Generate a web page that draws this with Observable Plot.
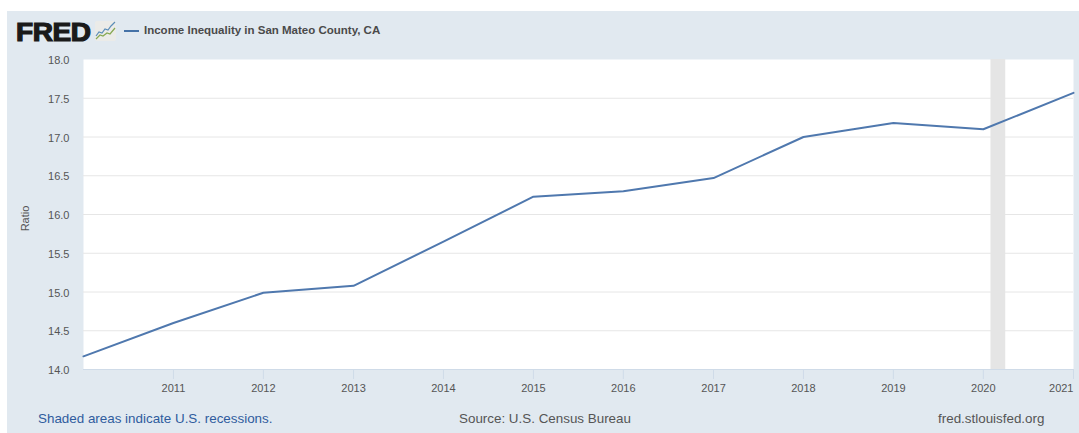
<!DOCTYPE html>
<html>
<head>
<meta charset="utf-8">
<script src="https://cdn.jsdelivr.net/npm/d3@7"></script>
<script src="https://cdn.jsdelivr.net/npm/@observablehq/plot@0.6"></script>
<style>
  html, body { margin: 0; padding: 0; background: #fff; }
  body { width: 1079px; height: 433px; overflow: hidden; font-family: "Liberation Sans", Arial, sans-serif; }
  #panel { position: absolute; left: 7px; top: 11px; width: 1072px; height: 422px; background: #e1e9f0; }
  #panel svg.chart { position: absolute; left: 0; top: 39px; }
  #logo { position: absolute; left: 9px; top: 6px; font: 900 25px/30px "Liberation Sans", Arial, sans-serif; letter-spacing: -0.4px; color: #1a1a1a; -webkit-text-stroke: 1.2px #1a1a1a; transform: scaleX(1.12); transform-origin: left center; }
  #spark { position: absolute; left: 88px; top: 10px; }
  #key { position: absolute; left: 117px; top: 19px; width: 15px; height: 2px; background: #4572a7; }
  #name { position: absolute; left: 137px; top: 12px; font: bold 11.5px/15px "Liberation Sans", Arial, sans-serif; color: #4a4a4a; }
  .foot { position: absolute; top: 400px; font-size: 13.4px; line-height: 15px; color: #555; white-space: nowrap; }
</style>
</head>
<body>
<div id="panel">
  <div id="logo">FRED</div>
  <svg id="spark" width="21" height="21" viewBox="0 0 21 21">
    <rect width="21" height="20" rx="2" fill="#ebebe8"/>
    <polyline points="1,15 4,11 7,12 10,8 13,9 16,5 20,1" fill="none" stroke="#5b8db8" stroke-width="1.2"/>
    <polyline points="1,18 5,14 8,15 12,12 15,13 20,7" fill="none" stroke="#86a852" stroke-width="1.2"/>
  </svg>
  <div id="key"></div>
  <div id="name">Income Inequality in San Mateo County, CA</div>
  <div class="foot" style="left:31px;color:#2f5c9e">Shaded areas indicate U.S. recessions.</div>
  <div class="foot" style="left:452px">Source: U.S. Census Bureau</div>
  <div class="foot" style="left:931px">fred.stlouisfed.org</div>
</div>
<script>
// Annual ratio of income for San Mateo County, CA
const years = [2010, 2011, 2012, 2013, 2014, 2015, 2016, 2017, 2018, 2019, 2020, 2021];
const ratios = [14.17, 14.6, 14.99, 15.08, 15.65, 16.23, 16.3, 16.47, 17.0, 17.18, 17.1, 17.57];
const recessionStart = new Date(Date.UTC(2020, 1, 1));
const recessionEnd = new Date(Date.UTC(2020, 3, 1));
const gridValues = [14.5, 15, 15.5, 16, 16.5, 17, 17.5];
const yTicks = [14, 14.5, 15, 15.5, 16, 16.5, 17, 17.5, 18];

const yearDate = y => new Date(Date.UTC(y, 0, 1));
const series = years.map((y, i) => ({date: yearDate(y), ratio: ratios[i]}));
const innerTicks = years.slice(1, -1).map(yearDate);
const lastTick = [yearDate(years[years.length - 1])];
const tickColor = "#cfdbe8";
const labelColor = "#555";

const chart = Plot.plot({
  width: 1072,
  height: 335,
  marginLeft: 76,
  marginRight: 6,
  marginTop: 9,
  marginBottom: 16,
  style: {background: "transparent", fontFamily: "'Liberation Sans', Arial, sans-serif", overflow: "visible"},
  x: {type: "utc", domain: [yearDate(2010), yearDate(2021)]},
  y: {domain: [14, 18]},
  marks: [
    Plot.frame({fill: "#fff", stroke: null}),
    Plot.gridY(gridValues, {stroke: "#e6e6e6", strokeOpacity: 1}),
    Plot.rectY([{x1: recessionStart, x2: recessionEnd}], {x1: "x1", x2: "x2", y1: 14, y2: 18, fill: "#e5e5e5"}),
    Plot.ruleY([14], {stroke: tickColor}),
    Plot.axisY({ticks: yTicks, tickSize: 0, tickPadding: 14, dy: 1, tickFormat: d3.format(".1f"), fontSize: 11, color: labelColor, label: null}),
    Plot.text(["Ratio"], {frameAnchor: "left", textAnchor: "middle", dx: -58, dy: 4, text: d => d, rotate: -90, fontSize: 11, fill: labelColor}),
    Plot.axisX({ticks: innerTicks, tickSize: 10, stroke: tickColor, tickPadding: 5, tickFormat: d3.utcFormat("%Y"), fontSize: 11, label: null, fill: labelColor}),
    Plot.axisX({ticks: lastTick, tickSize: 10, stroke: tickColor, tickPadding: 5, tickFormat: d3.utcFormat("%Y"), fontSize: 11, textAnchor: "end", label: null, fill: labelColor}),
    Plot.line(series, {x: "date", y: "ratio", stroke: "#4f78ae", strokeWidth: 2})
  ]
});
chart.classList.add("chart");
document.getElementById("panel").appendChild(chart);
</script>
</body>
</html>
